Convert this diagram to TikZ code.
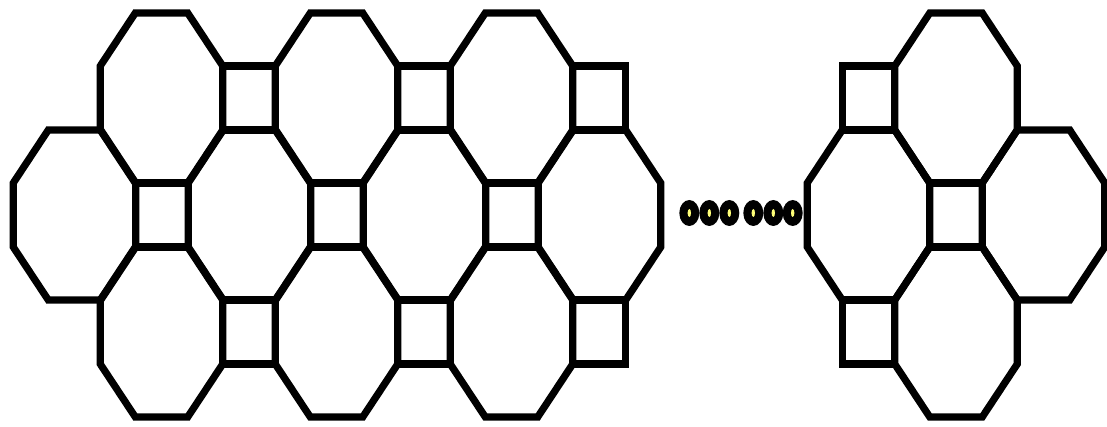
\documentclass[tikz,border=0pt]{standalone}
\usepackage{xcolor}
\usepackage{tikz}
\definecolor{dotyellow}{RGB}{255,255,120}
\tikzset{tile/.style={line width=3.6pt, line join=miter, black}}

\begin{document}
\begin{tikzpicture}[x=0.5pt,y=-0.5pt]
\useasboundingbox (0,0) rectangle (1107,427);
% octagons (centre x / centre y)
\foreach \cx/\cy in {161.5/98, 336.5/98, 511.5/98,
                     74.5/215, 249.5/215, 424.5/215, 599.5/215,
                     161.5/332, 336.5/332, 511.5/332,
                     956/98, 868.5/215, 1043.5/215, 956/332}
  \draw[tile] (\cx-26.25,\cy-85) -- (\cx+26.25,\cy-85) -- (\cx+61.25,\cy-32)
    -- (\cx+61.25,\cy+32) -- (\cx+26.25,\cy+85) -- (\cx-26.25,\cy+85)
    -- (\cx-61.25,\cy+32) -- (\cx-61.25,\cy-32) -- cycle;
% squares (top left corner)
\foreach \sx/\sy in {222.75/66, 397.75/66, 572.75/66,
                     135.75/183, 310.75/183, 485.75/183,
                     222.75/300, 397.75/300, 572.75/300,
                     842.25/66, 929.75/183, 842.25/300}
  \draw[tile] (\sx,\sy) rectangle ++(52.5,64);
% dots
\foreach \dx in {689.3, 709.3, 729.3, 753.3, 773.3, 792.7} {
  \fill[black] (\dx,213) ellipse [x radius=10, y radius=13];
  \fill[dotyellow] (\dx,213) ellipse [x radius=1.7, y radius=4];
}
\end{tikzpicture}
\end{document}
